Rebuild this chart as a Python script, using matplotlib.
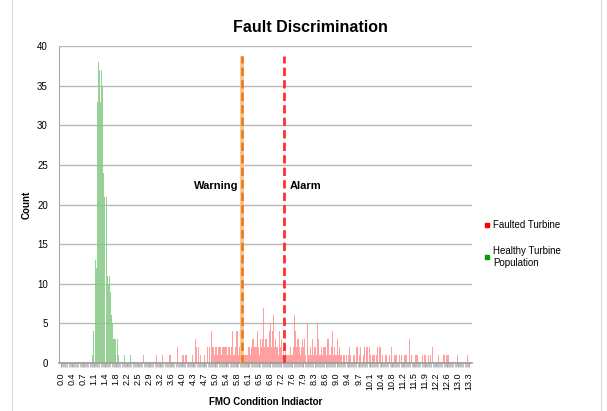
import numpy as np
import matplotlib
matplotlib.use('Agg')
import matplotlib.pyplot as plt
from matplotlib.lines import Line2D

plt.rcParams['font.family'] = ['Liberation Sans', 'DejaVu Sans']

# histogram bins of the FMO condition indicator (bin width 0.036)
bin_width = 0.036
n_bins = 371

# healthy turbine population: bin index -> count
healthy_bins = [29, 30, 31, 32, 33, 34, 35, 36, 37, 38, 39, 40, 41, 42, 43, 44,
                45, 46, 47, 48, 49, 50, 51, 52, 58, 63]
healthy_counts = [1, 4, 13, 12, 33, 38, 37, 33, 37, 35, 24, 21, 21, 11, 10, 11,
                  9, 6, 5, 3, 3, 3, 3, 1, 1, 1]

# faulted turbine: bin index -> count
faulted_bins = [75, 87, 92, 99, 106, 110, 111, 113, 114, 119, 122, 123, 125, 127,
                130, 133, 135, 137, 138, 139, 140, 141, 142, 143, 144, 145, 146,
                147, 148, 149, 150, 151, 152, 153, 154, 155, 156, 157, 158, 159,
                160, 161, 162, 163, 164, 165, 166, 167, 168, 169, 170, 171, 172,
                173, 174, 175, 176, 177, 178, 179, 180, 181, 182, 183, 184, 185,
                186, 187, 188, 189, 190, 191, 192, 193, 194, 195, 196, 197, 198,
                199, 200, 201, 202, 203, 204, 205, 206, 207, 208, 209, 210, 211,
                212, 213, 214, 215, 216, 217, 218, 219, 220, 221, 222, 224, 225,
                226, 227, 228, 229, 230, 231, 232, 233, 234, 235, 236, 237, 238,
                239, 240, 241, 242, 243, 244, 245, 246, 247, 248, 249, 250, 251,
                252, 253, 254, 256, 257, 259, 261, 262, 263, 265, 266, 268, 269,
                271, 272, 274, 275, 277, 278, 280, 281, 283, 284, 286, 287, 289,
                290, 292, 294, 295, 298, 300, 303, 304, 307, 309, 312, 313, 316,
                318, 322, 323, 328, 330, 331, 333, 335, 337, 342, 347, 348, 350,
                351, 360, 369]
faulted_counts = [1, 1, 1, 1, 2, 1, 1, 1, 1, 1, 3, 2, 2, 1,
                  1, 2, 2, 4, 2, 1, 2, 2, 1, 2, 2, 2, 1,
                  2, 2, 2, 2, 1, 2, 2, 1, 2, 4, 1, 2, 4,
                  4, 1, 2, 1, 2, 1, 1, 1, 1, 1, 2, 2, 1,
                  2, 3, 3, 2, 2, 4, 2, 1, 3, 2, 3, 7, 2,
                  3, 2, 2, 4, 5, 2, 4, 6, 2, 3, 2, 1, 4,
                  2, 3, 1, 2, 1, 2, 1, 1, 1, 2, 1, 1, 2,
                  6, 4, 2, 3, 2, 1, 2, 3, 2, 3, 1, 5, 1,
                  2, 1, 3, 1, 2, 2, 1, 5, 3, 1, 2, 1, 2,
                  2, 2, 1, 3, 3, 1, 2, 4, 1, 2, 1, 1, 3,
                  1, 2, 1, 1, 1, 1, 1, 2, 1, 1, 1, 2, 2,
                  1, 2, 1, 2, 2, 2, 2, 1, 1, 1, 1, 2, 2,
                  2, 1, 1, 1, 1, 2, 1, 1, 1, 1, 1, 1, 3,
                  1, 1, 1, 1, 1, 1, 1, 1, 2, 1, 1, 1, 1,
                  1, 1, 1]

warning_level = 5.92
alarm_level = 7.27

healthy = np.zeros(n_bins)
healthy[healthy_bins] = healthy_counts
faulted = np.zeros(n_bins)
faulted[faulted_bins] = faulted_counts
x = np.arange(n_bins) * bin_width

fig = plt.figure(figsize=(6.07, 4.11), dpi=100)
ax = fig.add_axes([0.0972, 0.1168, 0.6804, 0.7712])

ax.bar(x, faulted, width=bin_width, color='#ff8a8a', alpha=0.8, linewidth=0)
ax.bar(x, healthy, width=bin_width * 0.9, color='#86c986', alpha=0.85, linewidth=0)

# threshold lines
ax.vlines(warning_level, 0, 38.8, color='#f7c08a', linewidth=2.6, zorder=3)
ax.vlines(warning_level, 0, 38.8, color='#ee7d1e', linewidth=2.0,
          linestyles=(0, (3, 1.5)), zorder=4)
ax.vlines(alarm_level, 0, 38.8, color='#ff3030', linewidth=2.0,
          linestyles=(0, (3, 1.5)), zorder=4)
ax.text(5.07, 22.3, 'Warning', fontsize=8, fontweight='bold', ha='center', va='center')
ax.text(7.98, 22.3, 'Alarm', fontsize=8, fontweight='bold', ha='center', va='center')

ax.set_ylim(0, 40)
ax.set_xlim(-0.06, 13.42)
ax.set_yticks(np.arange(0, 41, 5))
ticks = np.arange(0, n_bins, 10) * bin_width
ax.set_xticks(ticks)
ax.set_xticklabels(['%.1f' % t for t in ticks], rotation=90)
ax.set_xticks(x, minor=True)
ax.tick_params(axis='x', which='major', labelsize=6.5, length=3, color='#999999', width=0.6)
ax.tick_params(axis='x', which='minor', length=3, color='#aaaaaa', width=0.5)
ax.tick_params(axis='y', labelsize=7, length=0, pad=8)

ax.grid(axis='y', color='#b8b8b8', linewidth=1.0)
ax.set_axisbelow(True)
for side in ['top', 'right']:
    ax.spines[side].set_visible(False)
ax.spines['left'].set_color('#aaaaaa')
ax.spines['bottom'].set_color('#999999')
ax.spines['bottom'].set_linewidth(1.2)

fig.text(0.512, 0.934, 'Fault Discrimination', fontsize=11.5, fontweight='bold',
         ha='center', va='center')
ax.set_ylabel('Count', fontsize=7, fontweight='bold', labelpad=4)
ax.set_xlabel('FMO Condition Indiactor', fontsize=7, fontweight='bold', labelpad=5)

# light chart-area frame on the sides
fig.add_artist(Line2D([12 / 607, 12 / 607], [0, 1], color='#d8d8d8', linewidth=0.8))
fig.add_artist(Line2D([601 / 607, 601 / 607], [0, 1], color='#d8d8d8', linewidth=0.8))

handles = [Line2D([], [], marker='s', linestyle='none', color='#ff0000', markersize=3.5),
           Line2D([], [], marker='s', linestyle='none', color='#00a000', markersize=3.5)]
fig.legend(handles, ['Faulted Turbine', 'Healthy Turbine\nPopulation'],
           loc='upper left', bbox_to_anchor=(0.783, 0.485), frameon=False,
           fontsize=7, handlelength=0.6, handletextpad=0.3, labelspacing=1.6)

plt.savefig('out.png', dpi=100)
plt.close()
